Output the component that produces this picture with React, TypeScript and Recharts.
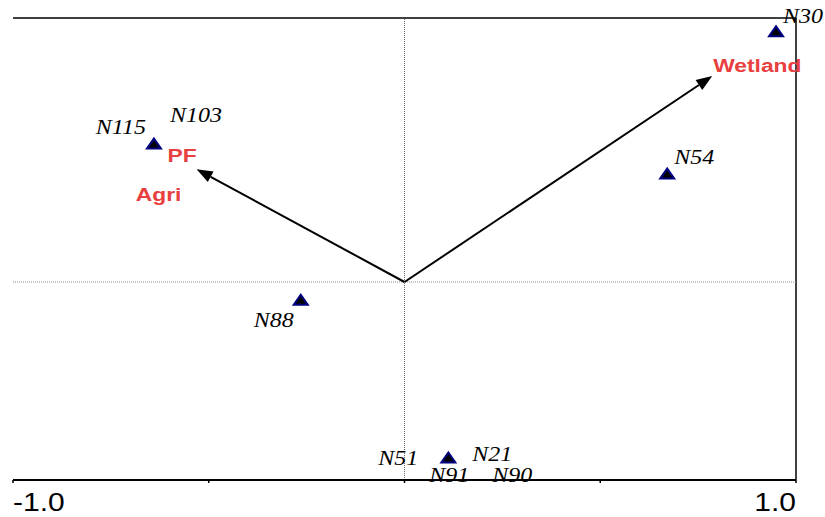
import {
  ScatterChart,
  Scatter,
  XAxis,
  YAxis,
  ReferenceLine,
} from 'recharts';

// site scores (triangles)
const siteX = [-0.64, 0.949, 0.671, -0.265, 0.112];
const siteY = [0.418, 0.758, 0.327, -0.055, -0.533];
const siteNames = [['N115', 'N103'], ['N30'], ['N54'], ['N88'], ['N51', 'N21', 'N91', 'N90']];

// environmental variables (arrows)
const envNames = ['PF', 'Wetland', 'Agri'];
const envX = [-0.531, 0.786, -0.628];
const envY = [0.342, 0.624, 0.264];
const envArrow = [true, true, false];

const xTicks = [-1, -0.5, 0, 0.5, 1];
const yTicks = [-0.6, -0.4, -0.2, 0, 0.2, 0.4, 0.6, 0.8];

// label placement relative to the marker, in pixels
const siteLabelLayout: Record<string, { dx: number; dy: number; anchor: string }> = {
  N115: { dx: -8, dy: -10, anchor: 'end' },
  N103: { dx: 16, dy: -22, anchor: 'start' },
  N30: { dx: 7, dy: -9, anchor: 'start' },
  N54: { dx: 7, dy: -10, anchor: 'start' },
  N88: { dx: -7, dy: 27, anchor: 'end' },
  N51: { dx: -30, dy: 7, anchor: 'end' },
  N21: { dx: 24, dy: 3, anchor: 'start' },
  N91: { dx: -19, dy: 24, anchor: 'start' },
  N90: { dx: 44, dy: 24, anchor: 'start' },
};
const envLabelLayout: Record<string, { dx: number; dy: number; anchor: string }> = {
  PF: { dx: 0, dy: -7, anchor: 'end' },
  Wetland: { dx: 1, dy: -4, anchor: 'start' },
  Agri: { dx: 0, dy: 6, anchor: 'middle' },
};

const STRETCH = 1.2;
const RED = '#e8403f';

const sites = siteX.map((x, i) => ({ x, y: siteY[i], names: siteNames[i] }));
const envs = envNames.map((name, i) => ({ x: envX[i], y: envY[i], name }));

function StretchText({ x, y, anchor, children, style }: any) {
  return (
    <text
      transform={`translate(${x},${y}) scale(${STRETCH},1)`}
      textAnchor={anchor}
      style={style}
    >
      {children}
    </text>
  );
}

function SiteShape(props: any) {
  const { cx, cy, payload } = props;
  return (
    <g>
      <polygon
        points={`${cx - 7},${cy + 4.5} ${cx + 7},${cy + 4.5} ${cx},${cy - 5.5}`}
        fill="#000"
        stroke="#000080"
        strokeWidth={2}
      />
      {payload.names.map((n: string) => {
        const l = siteLabelLayout[n];
        return (
          <StretchText
            key={n}
            x={cx + l.dx}
            y={cy + l.dy}
            anchor={l.anchor}
            style={{ fontFamily: '"Liberation Serif", serif', fontStyle: 'italic', fontSize: 20, fill: '#000' }}
          >
            {n}
          </StretchText>
        );
      })}
    </g>
  );
}

function EnvShape(props: any) {
  const { cx, cy, payload } = props;
  const l = envLabelLayout[payload.name];
  return (
    <StretchText
      x={cx + l.dx}
      y={cy + l.dy}
      anchor={l.anchor}
      style={{ fontFamily: '"Liberation Sans", Arial, sans-serif', fontWeight: 'bold', fontSize: 19, fill: RED }}
    >
      {payload.name}
    </StretchText>
  );
}

function Arrow(props: any) {
  const { x1, y1, x2, y2 } = props;
  const ang = Math.atan2(y2 - y1, x2 - x1);
  const len = 16;
  const half = 6;
  const bx = x2 - len * Math.cos(ang);
  const by = y2 - len * Math.sin(ang);
  const px = -Math.sin(ang) * half;
  const py = Math.cos(ang) * half;
  return (
    <g>
      <line x1={x1} y1={y1} x2={bx} y2={by} stroke="#000" strokeWidth={2} />
      <polygon points={`${x2},${y2} ${bx + px},${by + py} ${bx - px},${by - py}`} fill="#000" />
    </g>
  );
}

function XTick(props: any) {
  const { x, y, payload } = props;
  if (Math.abs(payload.value) !== 1) return <g />;
  return (
    <StretchText
      x={x}
      y={y + 26}
      anchor={payload.value < 0 ? 'start' : 'end'}
      style={{ fontFamily: '"Liberation Sans", Arial, sans-serif', fontSize: 25, fill: '#000' }}
    >
      {payload.value.toFixed(1)}
    </StretchText>
  );
}

export default function App() {
  return (
    <div style={{ position: 'absolute', left: 0, top: 0, background: '#fff' }}>
      <ScatterChart
        width={825}
        height={517}
        margin={{ top: 18, right: 29, bottom: 0, left: 13 }}
      >
        <XAxis
          type="number"
          dataKey="x"
          domain={[-1, 1]}
          ticks={xTicks}
          height={37}
          tickSize={3}
          stroke="#000"
          axisLine={{ stroke: '#000', strokeWidth: 2 }}
          tickLine={{ stroke: '#000', strokeWidth: 1.5 }}
          tick={<XTick />}
          interval={0}
        />
        <YAxis
          type="number"
          dataKey="y"
          domain={[-0.6, 0.8]}
          ticks={yTicks}
          width={0}
          tickSize={4}
          axisLine={{ stroke: '#000', strokeWidth: 2 }}
          tickLine={{ stroke: '#000', strokeWidth: 1.5 }}
          tickFormatter={() => ''}
          interval={0}
        />
        <ReferenceLine y={0.8} stroke="#000" strokeWidth={1.5} />
        <ReferenceLine x={1} stroke="#000" strokeWidth={1.5} />
        <ReferenceLine x={0} stroke="#666" strokeDasharray="1 1" />
        <ReferenceLine y={0} stroke="#888" strokeDasharray="1 1" />
        {envs.map((e, i) =>
          envArrow[i] ? (
            <ReferenceLine
              key={e.name}
              segment={[{ x: 0, y: 0 }, { x: e.x, y: e.y }]}
              shape={(p: any) => <Arrow {...p} />}
              ifOverflow="visible"
            />
          ) : null
        )}
        <Scatter data={sites} shape={<SiteShape />} isAnimationActive={false} />
        <Scatter data={envs} shape={<EnvShape />} isAnimationActive={false} />
      </ScatterChart>
    </div>
  );
}
